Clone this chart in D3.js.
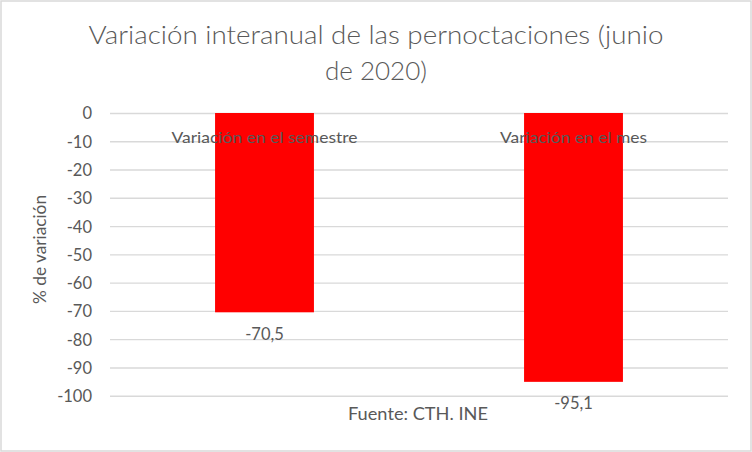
<!DOCTYPE html>
<html><head><meta charset="utf-8">
<script src="https://cdn.jsdelivr.net/npm/d3@7"></script>
<style>
body{margin:0;background:#fff;}
svg{display:block;font-family:Lato,"Open Sans",sans-serif;}
</style></head>
<body>
<svg id="c" width="752" height="452"></svg>
<script>
const categories = ["Variación en el semestre", "Variación en el mes"];
const values = [-70.5, -95.1];
const valueLabels = ["-70,5", "-95,1"];
const tickValues = [0, -10, -20, -30, -40, -50, -60, -70, -80, -90, -100];
const titleLines = ["Variación interanual de las pernoctaciones (junio", "de 2020)"];
const yTitle = "% de variación";
const source = "Fuente: CTH. INE";

(function(){
const svg = d3.select("#c");
const txt = "#595959";
svg.append("rect").attr("x",1).attr("y",1).attr("width",750).attr("height",450)
  .attr("fill","#fff").attr("stroke","#d9d9d9").attr("stroke-width",1.5);

const pL = 110, pR = 728, pT = 113, pB = 395.7;
const y = d3.scaleLinear().domain([0,-100]).range([pT,pB]);
const x = d3.scaleBand().domain(categories).range([pL,pR]).padding(0);
const barW = x.bandwidth()*0.32;

// grid + ticks
const ax = svg.append("g").attr("transform",`translate(${pL},0)`)
  .call(d3.axisLeft(y).tickValues(tickValues).tickSize(-(pR-pL)).tickPadding(18).tickFormat(d=>String(d)));
ax.select(".domain").remove();
ax.selectAll(".tick line").attr("stroke","#d9d9d9").attr("stroke-width",1.4);
ax.selectAll(".tick text").attr("fill",txt).attr("font-size",16.5).attr("font-family","Lato,'Open Sans',sans-serif").attr("dy","0.36em");

// bars
svg.append("g").selectAll("rect").data(categories).join("rect")
  .attr("x",(d)=>x(d)+x.bandwidth()/2-barW/2)
  .attr("width",barW)
  .attr("y",y(0))
  .attr("height",(d,i)=>y(values[i])-y(0))
  .attr("fill","#ff0000");

// category labels
const catW = [186,147];
svg.append("g").selectAll("text").data(categories).join("text")
  .attr("x",d=>x(d)+x.bandwidth()/2)
  .attr("y",143)
  .attr("text-anchor","middle")
  .attr("fill",txt).attr("font-size",16)
  .attr("textLength",(d,i)=>catW[i]).attr("lengthAdjust","spacingAndGlyphs")
  .text(d=>d);

// value labels
svg.append("g").selectAll("text").data(categories).join("text")
  .attr("x",d=>x(d)+x.bandwidth()/2)
  .attr("y",(d,i)=>y(values[i])+27.5)
  .attr("text-anchor","middle")
  .attr("fill",txt).attr("font-size",16.5)
  .text((d,i)=>valueLabels[i]);

// title
const tw = [575,102];
svg.append("g").selectAll("text").data(titleLines).join("text")
  .attr("x",376).attr("y",(d,i)=>44+i*36)
  .attr("text-anchor","middle").attr("fill",txt).attr("font-size",25).attr("font-weight",300)
  .attr("textLength",(d,i)=>tw[i]).attr("lengthAdjust","spacingAndGlyphs")
  .text(d=>d);

// y title
svg.append("text").attr("transform","translate(46,249.5) rotate(-90)")
  .attr("text-anchor","middle").attr("fill",txt).attr("font-size",17.5)
  .attr("textLength",109).attr("lengthAdjust","spacingAndGlyphs")
  .text(yTitle);

// source
svg.append("text").attr("x",348).attr("y",420).attr("fill",txt).attr("font-size",18)
  .attr("textLength",140).attr("lengthAdjust","spacingAndGlyphs")
  .text(source);
})();
</script>
</body></html>
